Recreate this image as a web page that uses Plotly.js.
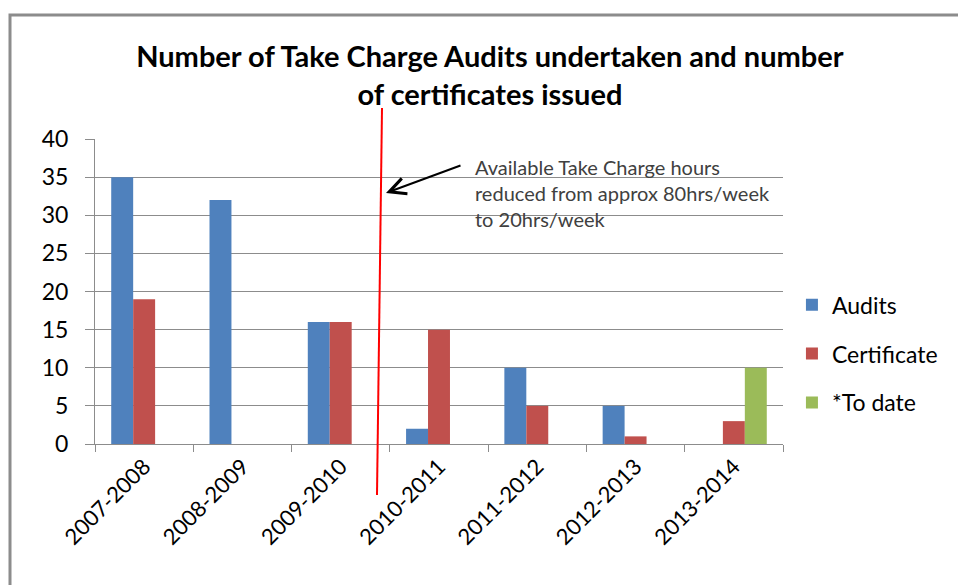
<!DOCTYPE html>
<html>
<head>
<meta charset="utf-8">
<script src="https://cdn.plot.ly/plotly-3.0.1.min.js"></script>
<style>
  html, body { margin: 0; padding: 0; background: #fff; }
  #chart { width: 958px; height: 585px; }
</style>
</head>
<body>
<div id="chart"></div>
<script>
const categories = ["2007-2008", "2008-2009", "2009-2010", "2010-2011", "2011-2012", "2012-2013", "2013-2014"];
const audits = [35, 32, 16, 2, 10, 5, null];
const certificate = [19, null, 16, 15, 5, 1, 3];
const toDate = [null, null, null, null, null, null, 10];
const yTicks = [0, 5, 10, 15, 20, 25, 30, 35, 40];

const FONT = "Lato, 'Open Sans', sans-serif";

const traces = [
  { type: "bar", name: "Audits", legendgroup: "a", x: categories, y: audits, marker: { color: "#4F81BD" } },
  { type: "bar", name: "Certificate", legendgroup: "b", x: categories, y: certificate, marker: { color: "#C0504D" } },
  { type: "bar", name: "*To date", legendgroup: "c", x: categories, y: toDate, marker: { color: "#9BBB59" } }
];

const layout = {
  width: 958,
  height: 585,
  margin: { l: 95, r: 175, t: 139, b: 141 },
  paper_bgcolor: "#ffffff",
  plot_bgcolor: "#ffffff",
  font: { family: FONT, color: "#000000" },
  showlegend: true,
  barmode: "group",
  bargap: 0.33,
  bargroupgap: 0,
  title: {
    text: "<b>Number of Take Charge Audits undertaken and number<br>of certificates issued</b>",
    font: { family: FONT, size: 29, color: "#000000" },
    xref: "paper", x: 0.574, xanchor: "center",
    yref: "container", y: 1 - 67 / 585, yanchor: "top"
  },
  xaxis: {
    type: "category",
    tickangle: -45,
    tickson: "boundaries",
    ticks: "outside",
    ticklen: 7,
    tickcolor: "#8c8c8c",
    showline: true,
    linecolor: "#8c8c8c",
    linewidth: 1,
    showgrid: false,
    tickfont: { family: FONT, size: 22, color: "#000000" }
  },
  yaxis: {
    range: [0, 40],
    tickvals: yTicks,
    ticktext: yTicks.map(String),
    ticks: "outside",
    ticklen: 9,
    tickcolor: "#8c8c8c",
    showline: true,
    linecolor: "#8c8c8c",
    showgrid: true,
    gridcolor: "#8c8c8c",
    gridwidth: 1,
    zeroline: false,
    ticklabelstandoff: 12,
    tickfont: { family: FONT, size: 23, color: "#000000" }
  },
  legend: {
    x: 1.013, xanchor: "left",
    y: 0.527, yanchor: "top",
    font: { family: FONT, size: 23, color: "#000000" },
    traceorder: "grouped",
    itemwidth: 30,
    tracegroupgap: 16,
    bgcolor: "rgba(0,0,0,0)"
  },
  shapes: [
    { type: "line", xref: "paper", yref: "paper",
      x0: (382 - 95) / 688, y0: (444 - 108) / 305,
      x1: (377 - 95) / 688, y1: (444 - 495) / 305,
      line: { color: "#FF0000", width: 2 } },
    { type: "path", xref: "paper", yref: "paper",
      path: "M " + ((10 - 95) / 688) + " " + ((444 - 700) / 305) +
            " L " + ((10 - 95) / 688) + " " + ((444 - 15) / 305) +
            " L " + ((1000 - 95) / 688) + " " + ((444 - 15) / 305),
      line: { color: "#8c8c8c", width: 3 } }
  ],
  annotations: [
    { xref: "paper", yref: "paper",
      x: (473 - 95) / 688, y: (444 - 153) / 305,
      xanchor: "left", yanchor: "top", align: "left",
      showarrow: false,
      text: "Available Take Charge hours<br>reduced from approx 80hrs/week<br>to 20hrs/week",
      font: { family: FONT, size: 20, color: "#404040" } },
    { xref: "paper", yref: "paper",
      x: (386 - 95) / 688, y: (444 - 193) / 305,
      ax: 76, ay: -28, text: "", showarrow: true,
      arrowhead: 5, arrowsize: 1.6, arrowwidth: 2, arrowcolor: "#000000" }
  ]
};

Plotly.newPlot("chart", traces, layout, { displayModeBar: false, staticPlot: true });
</script>
</body>
</html>
